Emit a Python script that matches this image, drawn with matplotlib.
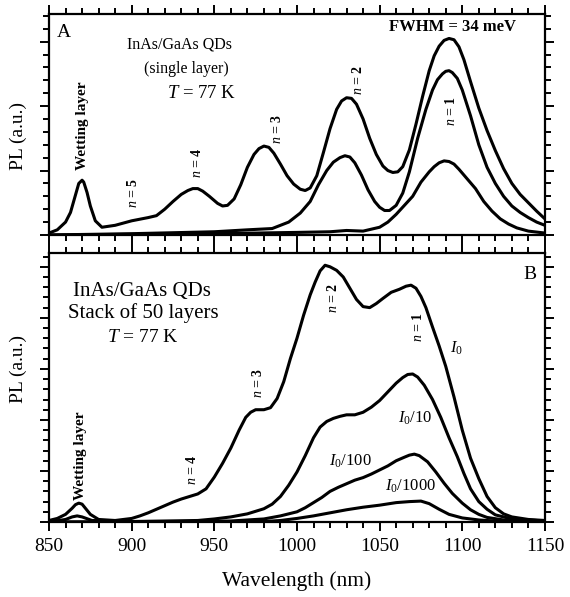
import matplotlib.pyplot as plt
from matplotlib.ticker import MultipleLocator

plt.rcParams['font.family'] = ['Liberation Serif', 'DejaVu Serif']
plt.rcParams['mathtext.fontset'] = 'custom'
plt.rcParams['mathtext.rm'] = 'Liberation Serif'
plt.rcParams['mathtext.it'] = 'Liberation Serif:italic'
plt.rcParams['mathtext.bf'] = 'Liberation Serif:bold'

# panel A: single layer, three excitation intensities
a1_wl = [850, 855, 860, 863, 866, 868, 870, 871, 873, 875, 878, 882, 890, 900, 910, 915, 920, 925,
         930, 934, 937, 940, 943, 947, 952, 955, 958, 962, 966, 970, 974, 977, 980, 983, 986, 990,
         994, 998, 1002, 1005, 1008, 1012, 1016, 1020, 1024, 1027, 1030, 1033, 1036, 1040, 1044,
         1048, 1052, 1055, 1058, 1061, 1064, 1068, 1072, 1076, 1080, 1083, 1086, 1089, 1092, 1095,
         1098, 1101, 1105, 1110, 1115, 1120, 1125, 1130, 1135, 1140, 1145, 1150]
a1_pl = [0.03, 0.08, 0.2, 0.35, 0.62, 0.8, 0.85, 0.82, 0.66, 0.45, 0.22, 0.12, 0.15, 0.22, 0.27,
         0.3, 0.4, 0.52, 0.63, 0.69, 0.72, 0.72, 0.68, 0.6, 0.49, 0.45, 0.46, 0.56, 0.78, 1.05, 1.25,
         1.34, 1.38, 1.36, 1.27, 1.1, 0.92, 0.79, 0.71, 0.69, 0.73, 0.92, 1.28, 1.65, 1.95, 2.08,
         2.13, 2.12, 2.03, 1.8, 1.5, 1.25, 1.07, 1.0, 0.97, 0.98, 1.06, 1.32, 1.72, 2.15, 2.55, 2.78,
         2.93, 3.02, 3.05, 3.03, 2.92, 2.72, 2.38, 1.97, 1.62, 1.31, 1.03, 0.8, 0.63, 0.5, 0.37, 0.25]

a2_wl = [850, 900, 950, 970, 985, 995, 1002, 1008, 1013, 1018, 1022, 1026, 1029, 1032, 1035, 1039,
         1043, 1047, 1050, 1053, 1056, 1060, 1064, 1068, 1073, 1078, 1082, 1085, 1088, 1090, 1092,
         1094, 1097, 1100, 1105, 1110, 1115, 1120, 1125, 1130, 1135, 1140, 1145, 1150]
a2_pl = [0.0, 0.02, 0.05, 0.08, 0.1, 0.2, 0.34, 0.52, 0.78, 1.0, 1.13, 1.2, 1.23, 1.21, 1.12, 0.93,
         0.7, 0.52, 0.43, 0.38, 0.38, 0.46, 0.65, 0.98, 1.5, 1.95, 2.25, 2.41, 2.5, 2.54, 2.55, 2.52,
         2.43, 2.25, 1.85, 1.4, 1.05, 0.8, 0.6, 0.45, 0.35, 0.27, 0.2, 0.15]

a3_wl = [850, 950, 1000, 1020, 1030, 1040, 1050, 1055, 1060, 1065, 1070, 1075, 1080, 1083, 1086,
         1089, 1092, 1095, 1098, 1103, 1108, 1113, 1118, 1123, 1128, 1133, 1140, 1150]
a3_pl = [0.0, 0.02, 0.04, 0.05, 0.07, 0.06, 0.12, 0.2, 0.32, 0.46, 0.6, 0.82, 0.98, 1.06, 1.12,
         1.15, 1.14, 1.1, 1.02, 0.87, 0.72, 0.52, 0.37, 0.25, 0.17, 0.11, 0.06, 0.03]

# panel B: stack of 50 layers, I0 ... I0/1000
b1_wl = [850, 855, 860, 864, 866, 868, 870, 872, 875, 880, 890, 900, 905, 910, 915, 920, 925, 930,
         935, 940, 945, 950, 955, 960, 965, 969, 972, 975, 980, 984, 988, 992, 996, 1000, 1004,
         1008, 1011, 1014, 1017, 1020, 1024, 1028, 1032, 1036, 1040, 1044, 1048, 1052, 1057, 1062,
         1066, 1069, 1072, 1075, 1078, 1082, 1086, 1090, 1095, 1100, 1105, 1110, 1115, 1120, 1125,
         1130, 1140, 1150]
b1_pl = [0.03, 0.07, 0.15, 0.27, 0.34, 0.37, 0.35, 0.27, 0.15, 0.05, 0.03, 0.07, 0.12, 0.18, 0.25,
         0.32, 0.39, 0.45, 0.5, 0.55, 0.65, 0.88, 1.15, 1.45, 1.8, 2.05, 2.15, 2.2, 2.2, 2.24, 2.42,
         2.75, 3.2, 3.6, 4.05, 4.45, 4.7, 4.92, 5.03, 5.0, 4.93, 4.8, 4.58, 4.36, 4.22, 4.2, 4.28,
         4.38, 4.5, 4.56, 4.62, 4.64, 4.58, 4.42, 4.2, 3.82, 3.45, 3.05, 2.45, 1.8, 1.25, 0.85, 0.5,
         0.28, 0.16, 0.1, 0.05, 0.03]

b2_wl = [850, 860, 864, 867, 870, 876, 900, 940, 950, 960, 970, 980, 985, 990, 995, 1000, 1005,
         1010, 1014, 1018, 1022, 1026, 1030, 1035, 1040, 1045, 1050, 1055, 1060, 1064, 1067, 1070,
         1073, 1077, 1082, 1087, 1092, 1097, 1101, 1105, 1110, 1115, 1120, 1130, 1150]
b2_pl = [0.0, 0.05, 0.1, 0.12, 0.1, 0.03, 0.01, 0.03, 0.06, 0.1, 0.16, 0.26, 0.35, 0.5, 0.72, 0.98,
         1.3, 1.65, 1.86, 1.97, 2.03, 2.07, 2.1, 2.1, 2.15, 2.25, 2.38, 2.55, 2.72, 2.83, 2.89, 2.9,
         2.84, 2.68, 2.4, 2.05, 1.65, 1.28, 0.95, 0.65, 0.4, 0.25, 0.14, 0.06, 0.02]

b3_wl = [850, 900, 960, 980, 990, 1000, 1005, 1010, 1015, 1020, 1025, 1030, 1035, 1040, 1045, 1050,
         1055, 1060, 1065, 1068, 1071, 1074, 1079, 1084, 1089, 1094, 1100, 1105, 1110, 1115, 1125,
         1150]
b3_pl = [0.0, 0.0, 0.02, 0.06, 0.12, 0.2, 0.28, 0.38, 0.48, 0.6, 0.68, 0.75, 0.82, 0.87, 0.94, 1.02,
         1.1, 1.2, 1.27, 1.31, 1.33, 1.3, 1.18, 0.98, 0.76, 0.56, 0.37, 0.24, 0.15, 0.09, 0.04, 0.01]

b4_wl = [850, 980, 990, 1000, 1010, 1020, 1030, 1040, 1050, 1060, 1068, 1075, 1080, 1086, 1092,
         1100, 1110, 1120, 1150]
b4_pl = [0.0, 0.01, 0.03, 0.07, 0.12, 0.18, 0.24, 0.29, 0.33, 0.38, 0.4, 0.41, 0.36, 0.25, 0.15,
         0.08, 0.04, 0.02, 0.01]

fig = plt.figure(figsize=(5.7, 5.97), dpi=100)
axA = fig.add_axes([0.086, 0.6064, 0.870, 0.3702])
axB = fig.add_axes([0.086, 0.1256, 0.870, 0.4506])

for wl, pl in [(a1_wl, a1_pl), (a2_wl, a2_pl), (a3_wl, a3_pl)]:
    axA.plot(wl, pl, color='black', lw=2.2, solid_joinstyle='round')
for wl, pl in [(b1_wl, b1_pl), (b2_wl, b2_pl), (b3_wl, b3_pl), (b4_wl, b4_pl)]:
    axB.plot(wl, pl, color='black', lw=2.2, solid_joinstyle='round')

axA.set_ylim(0, 3.43)
axB.set_ylim(0, 5.27)
for ax in (axA, axB):
    ax.set_xlim(850, 1150)
    ax.xaxis.set_major_locator(MultipleLocator(50))
    ax.xaxis.set_minor_locator(MultipleLocator(10))
    ax.yaxis.set_major_locator(MultipleLocator(1))
    ax.yaxis.set_minor_locator(MultipleLocator(0.2))
    ax.tick_params(which='both', direction='out', top=True, right=True, width=1.4)
    ax.tick_params(which='major', length=6.5)
    ax.tick_params(which='minor', length=4)
    ax.tick_params(axis='y', labelleft=False)
    for s in ax.spines.values():
        s.set_linewidth(1.6)
    ax.set_ylabel('PL (a.u.)', fontsize=14)
axA.tick_params(axis='x', labelbottom=False)
axB.tick_params(axis='x', labelsize=14, pad=5)
axA.yaxis.set_label_coords(-0.045, 0.45)
axB.yaxis.set_label_coords(-0.045, 0.57)
axB.set_xlabel('Wavelength (nm)', fontsize=15.5, labelpad=12)

# panel A text
axA.text(859, 3.15, 'A', fontsize=14, ha='center', va='center')
axA.text(929, 2.95, 'InAs/GaAs QDs', fontsize=11.5, ha='center', va='center')
axA.text(933, 2.57, '(single layer)', fontsize=11.5, ha='center', va='center')
axA.text(942, 2.2, '$T$ = 77 K', fontsize=13.5, ha='center', va='center')
axA.text(1094, 3.23, 'FWHM = 34 meV', fontsize=12, fontweight='bold', ha='center', va='center')
axA.text(870, 1.69, 'Wetting layer', fontsize=11, fontweight='bold', rotation=90,
         ha='center', va='center')
for lab, x, y in [('5', 900.8, 0.65), ('4', 939.5, 1.12), ('3', 988, 1.65),
                  ('2', 1037, 2.4), ('1', 1093, 1.92)]:
    axA.text(x, y, '$n$ = ' + lab, fontsize=10, fontweight='bold', rotation=90,
             ha='center', va='center')

# panel B text
axB.text(1141, 4.84, 'B', fontsize=14, ha='center', va='center')
axB.text(906, 4.51, 'InAs/GaAs QDs', fontsize=15, ha='center', va='center')
axB.text(907, 4.1, 'Stack of 50 layers', fontsize=15, ha='center', va='center')
axB.text(907, 3.61, '$T$ = 77 K', fontsize=14, ha='center', va='center')
axB.text(868.8, 1.3, 'Wetting layer', fontsize=11, fontweight='bold', rotation=90,
         ha='center', va='center')
for lab, x, y in [('4', 936.5, 1.02), ('3', 976.4, 2.73), ('2', 1021.8, 4.39), ('1', 1073, 3.82)]:
    axB.text(x, y, '$n$ = ' + lab, fontsize=10, fontweight='bold', rotation=90,
             ha='center', va='center')
for lab, x, y in [('$I_0$', 1096.8, 3.41), ('$I_0$/10', 1071.4, 2.04),
                  ('$I_0$/100', 1032, 1.18), ('$I_0$/1000', 1068.4, 0.69)]:
    axB.text(x, y, lab, fontsize=12, ha='center', va='center')

fig.savefig('out.png', dpi=100)
